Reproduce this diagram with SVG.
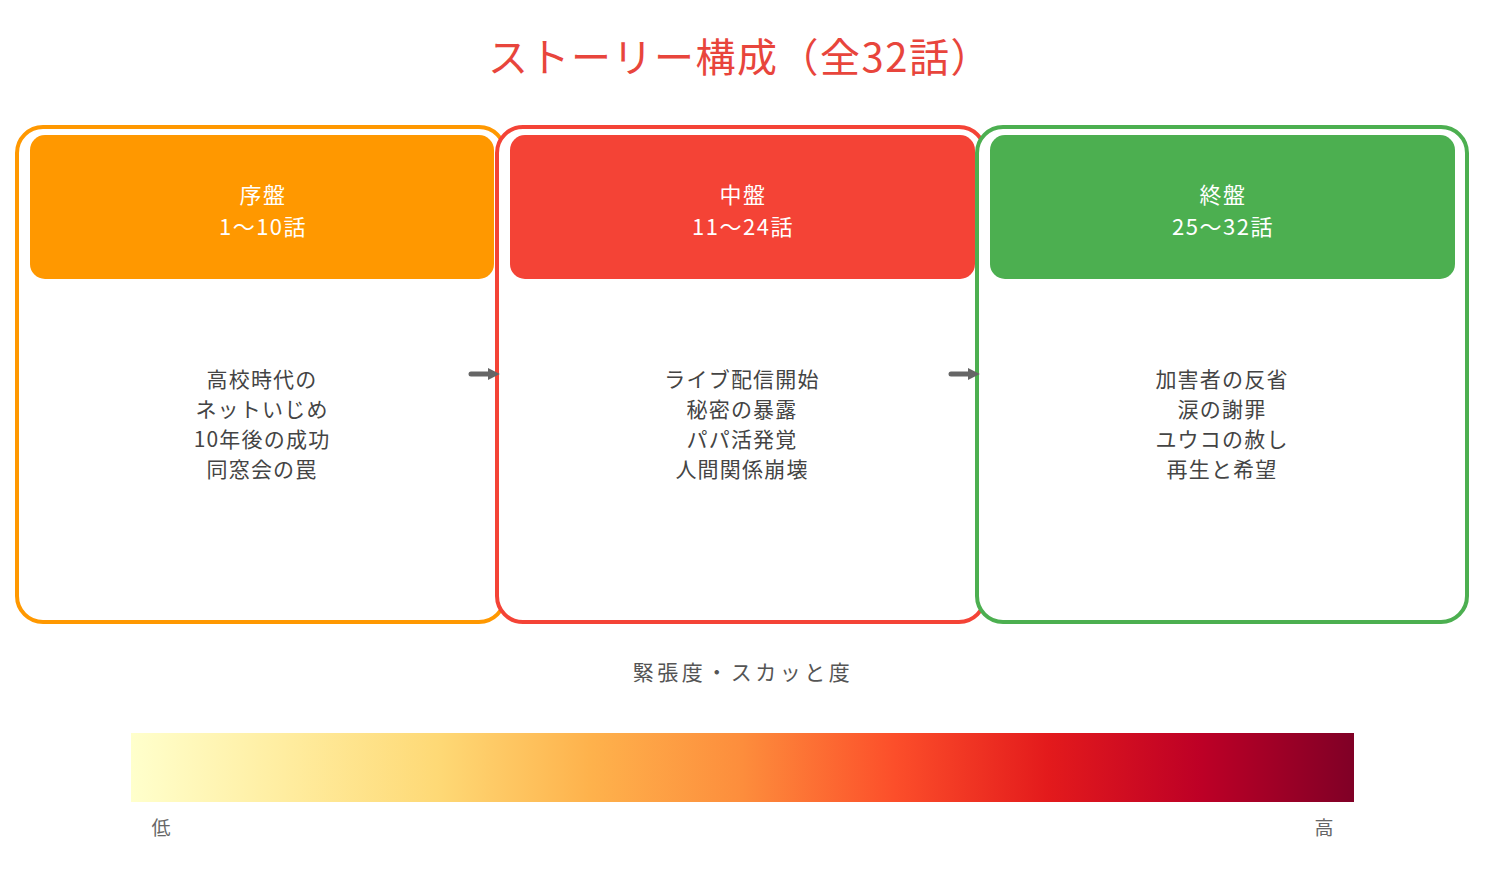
<svg xmlns="http://www.w3.org/2000/svg" width="1485" height="885" viewBox="0 0 1485 885">
<defs>
<style>
text{font-family:"Noto Sans CJK JP","Noto Sans",sans-serif;text-anchor:middle}
.title{font-size:40px;fill:#e8453c;letter-spacing:1.5px}
.head{font-size:22px;fill:#ffffff;letter-spacing:1.5px}
.body{font-size:21px;fill:#444444;letter-spacing:1.2px}
.legend{font-size:21px;fill:#555555;letter-spacing:3.5px}
.tick{font-size:19px;fill:#666666}
.outer{fill:#ffffff;stroke-width:4}
.conn{stroke:#666666;stroke-width:5;fill:none;stroke-linecap:round}
</style>
<marker id="ah" viewBox="0 0 10 10" refX="1" refY="5" markerWidth="2.4" markerHeight="2.4" orient="auto">
<path d="M0,0 L10,5 L0,10 z" fill="#666666"/>
</marker>
<linearGradient id="ylorrd" x1="0" y1="0" x2="1" y2="0">
<stop offset="0" stop-color="#ffffcc"/>
<stop offset="0.125" stop-color="#ffeda0"/>
<stop offset="0.25" stop-color="#fed976"/>
<stop offset="0.375" stop-color="#feb24c"/>
<stop offset="0.5" stop-color="#fd8d3c"/>
<stop offset="0.625" stop-color="#fc4e2a"/>
<stop offset="0.75" stop-color="#e31a1c"/>
<stop offset="0.875" stop-color="#bd0026"/>
<stop offset="1" stop-color="#800026"/>
</linearGradient>
</defs>
<rect width="1485" height="885" fill="#ffffff"/>
<text class="title" x="740" y="72">ストーリー構成（全32話）</text>

<g id="node-josetsu">
<rect class="outer" x="17" y="127" width="488" height="495" rx="26" stroke="#ff9800"/>
<rect x="30" y="135" width="464" height="144" rx="15" fill="#ff9800"/>
<text class="head" x="263" y="203">序盤</text>
<text class="head" x="263" y="235">1～10話</text>
<text class="body" x="262" y="387">高校時代の</text>
<text class="body" x="262" y="417">ネットいじめ</text>
<text class="body" x="262" y="447">10年後の成功</text>
<text class="body" x="262" y="477">同窓会の罠</text>
</g>

<g id="node-chuban">
<rect class="outer" x="497" y="127" width="488" height="495" rx="26" stroke="#f44336"/>
<rect x="510" y="135" width="465" height="144" rx="15" fill="#f44336"/>
<text class="head" x="743" y="203">中盤</text>
<text class="head" x="743" y="235">11～24話</text>
<text class="body" x="742" y="387">ライブ配信開始</text>
<text class="body" x="742" y="417">秘密の暴露</text>
<text class="body" x="742" y="447">パパ活発覚</text>
<text class="body" x="742" y="477">人間関係崩壊</text>
</g>

<g id="node-shuban">
<rect class="outer" x="977" y="127" width="490" height="495" rx="26" stroke="#4caf50"/>
<rect x="990" y="135" width="465" height="144" rx="15" fill="#4caf50"/>
<text class="head" x="1223" y="203">終盤</text>
<text class="head" x="1223" y="235">25～32話</text>
<text class="body" x="1222" y="387">加害者の反省</text>
<text class="body" x="1222" y="417">涙の謝罪</text>
<text class="body" x="1222" y="447">ユウコの赦し</text>
<text class="body" x="1222" y="477">再生と希望</text>
</g>

<g id="connectors">
<line class="conn" x1="471" y1="374" x2="489" y2="374" marker-end="url(#ah)"/>
<line class="conn" x1="951" y1="374" x2="969" y2="374" marker-end="url(#ah)"/>
</g>

<g id="legend">
<text class="legend" x="743" y="680">緊張度・スカッと度</text>
<rect x="131" y="733" width="1223" height="69" fill="url(#ylorrd)"/>
<text class="tick" x="161" y="835">低</text>
<text class="tick" x="1324" y="835">高</text>
</g>
</svg>
